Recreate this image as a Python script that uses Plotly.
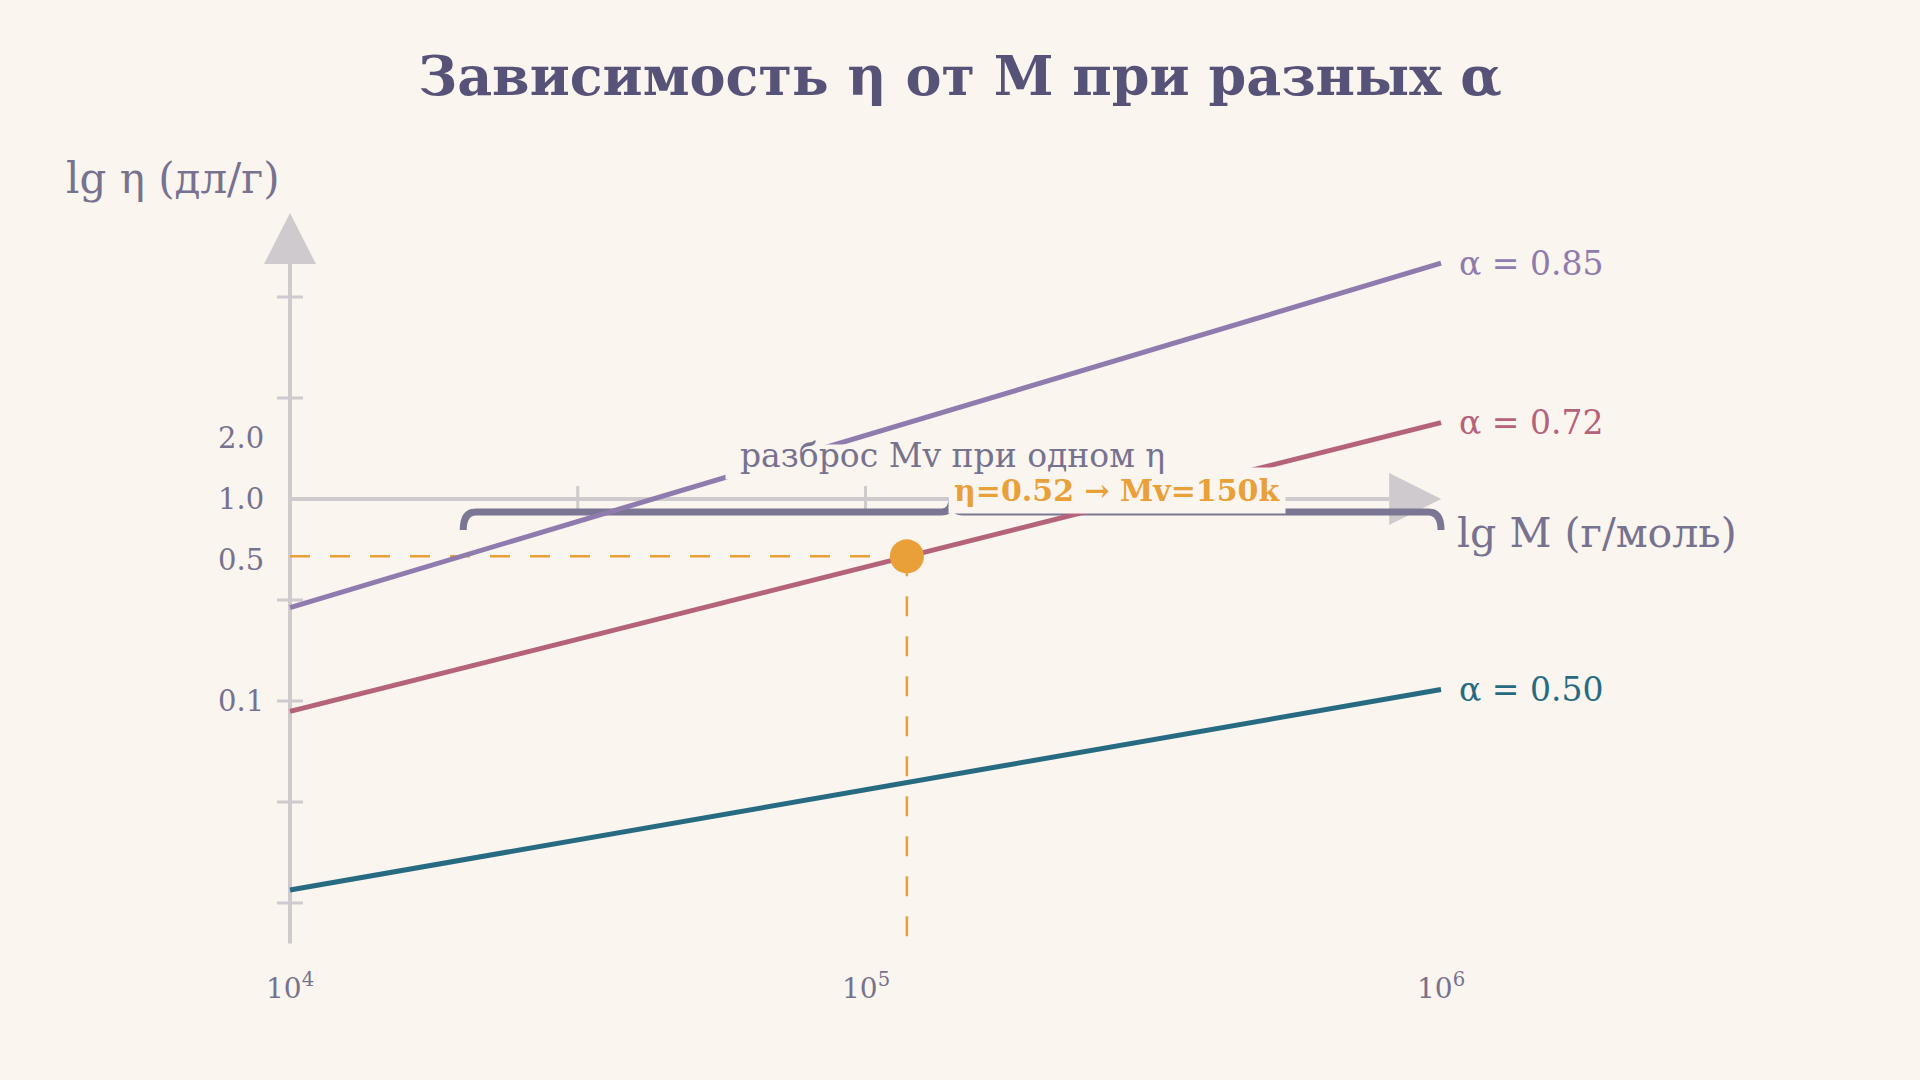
import numpy as np
import plotly.graph_objects as go

M_ends = [1e4, 1e6]
eta_a085 = [0.290, 14.7]
eta_a072 = [0.0888, 2.39]
eta_a050 = [0.0116, 0.114]
alpha_labels = ["α = 0.85", "α = 0.72", "α = 0.50"]

# markierter Punkt auf der alpha=0.72 Linie
point_M = 118000
point_eta = 0.52
point_label = "<b>η=0.52 → Mv=150k</b>"

# Achsen / Ticks
y_tick_vals = [2.0, 1.0, 0.5, 0.1]
y_tick_text = ["2.0", "1.0", "0.5", "0.1"]
y_tick_marks = [10, 3.162, 0.3162, 0.1, 0.03162, 0.01]
x_tick_vals = [1e4, 1e5, 1e6]
x_tick_text = ["10<sup>4</sup>", "10<sup>5</sup>", "10<sup>6</sup>"]
x_tick_marks = [31623, 1e5, 316228]
brace_M = [2e4, 1e6]
brace_label = "разброс Mv при одном η"

# Farben
bg = "#faf5ee"
grey = "#cfcacd"
txt = "#77728f"
title_col = "#575278"
colors = ["#8f7bad", "#b5627b", "#276b82"]
orange = "#e9a038"
brace_col = "#7a7694"
font = "DejaVu Serif"

# Ausdehnung der gezeichneten Achsen (Dekoration)
y_axis_lo = 10 ** -2.2
y_axis_top = 10 ** 1.163
x_axis_end = 10 ** 5.91
tick_dx = 0.0226  # halbe Ticklänge in Dekaden (x)
tick_dy = 0.064   # halbe Ticklänge in Dekaden (y)

fig = go.Figure()

# gestrichelte Hilfslinien zum Punkt
fig.add_trace(go.Scatter(x=[M_ends[0], point_M], y=[point_eta, point_eta], mode="lines",
                         line=dict(color=orange, width=2.5, dash="20px,20px"), hoverinfo="skip"))
fig.add_trace(go.Scatter(x=[point_M, point_M], y=[point_eta, y_axis_lo], mode="lines",
                         line=dict(color=orange, width=2.5, dash="20px,20px"), hoverinfo="skip"))

for eta, col, lab in zip([eta_a085, eta_a072, eta_a050], colors, alpha_labels):
    fig.add_trace(go.Scatter(x=M_ends, y=eta, mode="lines", name=lab,
                             line=dict(color=col, width=5)))

fig.add_trace(go.Scatter(x=[point_M], y=[point_eta], mode="markers",
                         marker=dict(color=orange, size=34), hoverinfo="skip"))

shapes = []
# Achsenlinien
shapes.append(dict(type="line", x0=M_ends[0], x1=M_ends[0], y0=y_axis_lo, y1=y_axis_top,
                   line=dict(color=grey, width=4), layer="below"))
shapes.append(dict(type="line", x0=M_ends[0], x1=x_axis_end, y0=1, y1=1,
                   line=dict(color=grey, width=4), layer="below"))
# Pfeilspitzen
shapes.append(dict(type="path", xsizemode="pixel", ysizemode="pixel", xanchor=M_ends[0], yanchor=y_axis_top,
                   path="M-26,0 L26,0 L0,51 Z", fillcolor=grey, line=dict(width=0), layer="below"))
shapes.append(dict(type="path", xsizemode="pixel", ysizemode="pixel", xanchor=x_axis_end, yanchor=1,
                   path="M0,-26 L0,26 L52,0 Z", fillcolor=grey, line=dict(width=0), layer="below"))
# Tickmarken
for v in y_tick_marks:
    shapes.append(dict(type="line", x0=M_ends[0] * 10 ** -tick_dx, x1=M_ends[0] * 10 ** tick_dx, y0=v, y1=v,
                       line=dict(color=grey, width=3), layer="below"))
for v in x_tick_marks:
    shapes.append(dict(type="line", x0=v, x1=v, y0=10 ** -tick_dy, y1=10 ** tick_dy,
                       line=dict(color=grey, width=3), layer="below"))

# geschweifte Klammer
lo, hi = np.log10(brace_M[0]), np.log10(brace_M[1])
mid = (lo + hi) / 2
bx = lambda l: 10 ** l
brace_path = (f"M{bx(lo)},-31 Q{bx(lo)},-13 {bx(lo + 0.022)},-13 "
              f"L{bx(mid - 0.018)},-13 Q{bx(mid)},-13 {bx(mid)},2 "
              f"Q{bx(mid)},-13 {bx(mid + 0.018)},-13 "
              f"L{bx(hi - 0.022)},-13 Q{bx(hi)},-13 {bx(hi)},-31")
shapes.append(dict(type="path", ysizemode="pixel", yanchor=1, path=brace_path,
                   line=dict(color=brace_col, width=7), fillcolor="rgba(0,0,0,0)", layer="below"))

ann = []
for eta, col, lab in zip([eta_a085, eta_a072, eta_a050], colors, alpha_labels):
    ann.append(dict(x=np.log10(M_ends[1]), y=np.log10(eta[1]), text=lab, showarrow=False,
                    xanchor="left", xshift=16, font=dict(family=font, size=33, color=col)))
for v, t in zip(y_tick_vals, y_tick_text):
    ann.append(dict(x=np.log10(M_ends[0]), y=np.log10(v), text=t, showarrow=False,
                    xanchor="right", xshift=-24, font=dict(family=font, size=29, color=txt)))
for v, t in zip(x_tick_vals, x_tick_text):
    ann.append(dict(x=np.log10(v), y=np.log10(y_axis_lo), text=t, showarrow=False,
                    yshift=-43, font=dict(family=font, size=28, color=txt)))
ann.append(dict(x=np.log10(M_ends[0]), y=np.log10(y_axis_top), text="lg η (дл/г)", showarrow=False,
                xshift=-117, yshift=86, bgcolor=bg, borderpad=6,
                font=dict(family=font, size=42, color=txt)))
ann.append(dict(x=np.log10(M_ends[1]), y=0, text="lg M (г/моль)", showarrow=False,
                xanchor="left", xshift=9, yshift=-34, bgcolor=bg, borderpad=6,
                font=dict(family=font, size=41, color=txt)))
# Hintergrundfläche hinter der Klammer-Beschriftung
ann.append(dict(x=mid, y=0, text=" ", showarrow=False, yshift=37, width=450, height=32,
                bgcolor=bg, font=dict(family=font, size=10, color=bg)))
ann.append(dict(x=np.log10(point_M), y=np.log10(point_eta), text=point_label, showarrow=False,
                xanchor="left", xshift=41, yshift=66, bgcolor=bg, borderpad=5,
                font=dict(family=font, size=30, color=orange)))
ann.append(dict(x=mid, y=0, text=brace_label, showarrow=False, yshift=44,
                font=dict(family=font, size=33, color=txt)))

fig.update_layout(
    width=1920, height=1080,
    margin=dict(l=40, r=40, t=120, b=40),
    paper_bgcolor=bg, plot_bgcolor=bg,
    showlegend=False,
    title=dict(text="<b>Зависимость η от M при разных α</b>", x=0.5, xanchor="center",
               y=1 - 76 / 1080, yref="container", yanchor="middle",
               font=dict(family=font, size=54, color=title_col)),
    xaxis=dict(type="log", range=[3.5656, 6.7628], visible=False),
    yaxis=dict(type="log", range=[-2.6782, 1.8762], visible=False),
    shapes=shapes, annotations=ann,
)

# Seitenrand des Browsers entfernen, damit die Grafik bündig sitzt
fig.write_html("out.html", config={"displayModeBar": False},
               post_script="document.body.style.margin='0px';document.body.style.background='#faf5ee';")
